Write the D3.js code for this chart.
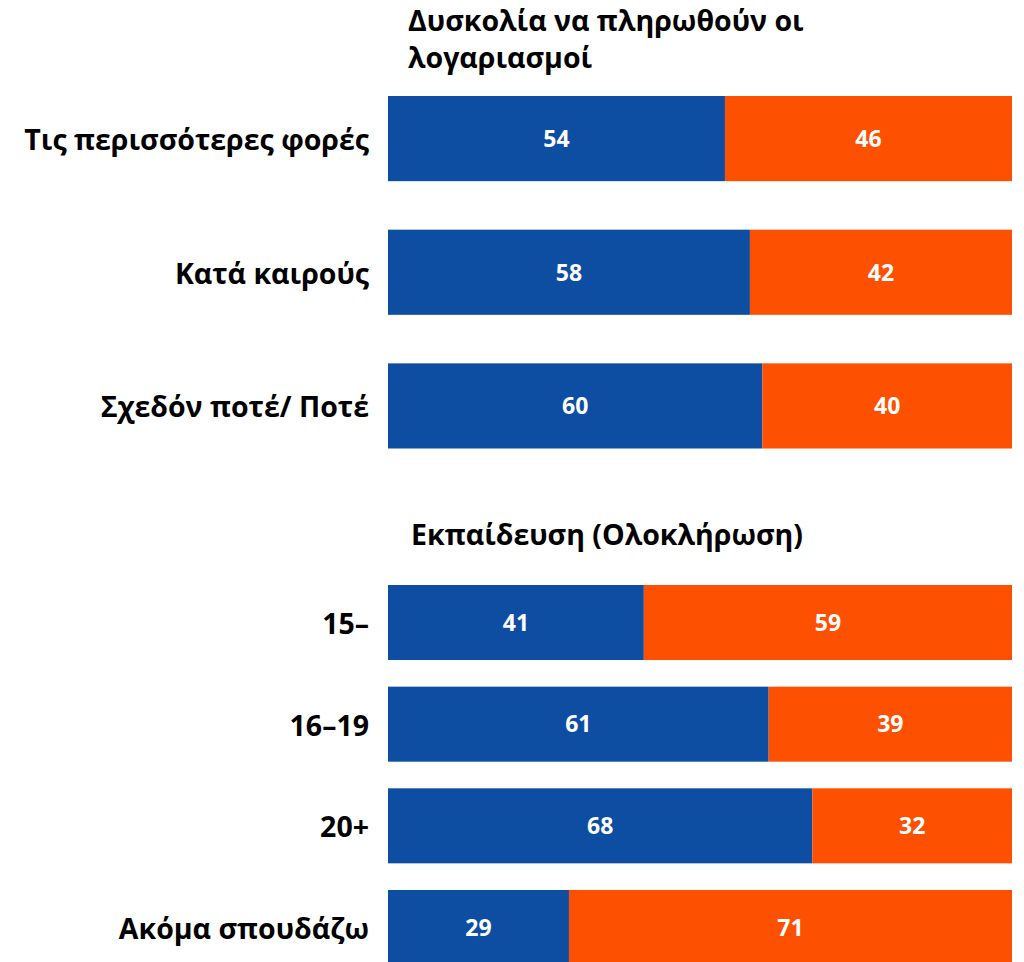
<!DOCTYPE html>
<html>
<head>
<meta charset="utf-8">
<script src="https://cdn.jsdelivr.net/npm/d3@7"></script>
<style>
  body { margin: 0; background: #fff; }
  svg text { font-family: "Open Sans", "Noto Sans", sans-serif; font-weight: 700; }
</style>
</head>
<body>
<div id="chart"></div>
<script>
// difficulty paying bills
const billsTitle = ["Δυσκολία να πληρωθούν οι", "λογαριασμοί"];
const billsCats = ["Τις περισσότερες φορές", "Κατά καιρούς", "Σχεδόν ποτέ/ Ποτέ"];
const billsBlue = [54, 58, 60];
const billsOrange = [46, 42, 40];

// education
const eduTitle = "Εκπαίδευση (Ολοκλήρωση)";
const eduCats = ["15–", "16–19", "20+", "Ακόμα σπουδάζω"];
const eduBlue = [41, 61, 68, 29];
const eduOrange = [59, 39, 32, 71];

const W = 1024, H = 962;
const BLUE = "#0e4ea2", ORANGE = "#fd5000";

const svg = d3.select("#chart").append("svg")
    .attr("width", W).attr("height", H);

const x = d3.scaleLinear().domain([0, 100]).range([388, 1012]);

function drawBlock(cats, blue, orange, yRange, padInner) {
    const y = d3.scaleBand().domain(cats).range(yRange).paddingInner(padInner).paddingOuter(0);
    const rows = cats.map((c, i) => ({cat: c, blue: blue[i], orange: orange[i]}));
    const g = svg.append("g");

    const row = g.selectAll("g.row").data(rows).enter().append("g").attr("class", "row");

    row.append("rect")
        .attr("x", x(0))
        .attr("y", d => y(d.cat))
        .attr("width", d => x(d.blue) - x(0))
        .attr("height", y.bandwidth())
        .attr("fill", BLUE);
    row.append("rect")
        .attr("x", d => x(d.blue))
        .attr("y", d => y(d.cat))
        .attr("width", d => x(d.blue + d.orange) - x(d.blue))
        .attr("height", y.bandwidth())
        .attr("fill", ORANGE);

    row.append("text")
        .attr("x", d => (x(0) + x(d.blue)) / 2)
        .attr("y", d => y(d.cat) + y.bandwidth() / 2)
        .attr("dy", "0.36em")
        .attr("text-anchor", "middle")
        .attr("fill", "#fff")
        .style("font-size", "23px")
        .text(d => d.blue);
    row.append("text")
        .attr("x", d => (x(d.blue) + x(d.blue + d.orange)) / 2)
        .attr("y", d => y(d.cat) + y.bandwidth() / 2)
        .attr("dy", "0.36em")
        .attr("text-anchor", "middle")
        .attr("fill", "#fff")
        .style("font-size", "23px")
        .text(d => d.orange);

    row.append("text")
        .attr("x", 369)
        .attr("y", d => y(d.cat) + y.bandwidth() / 2)
        .attr("dy", "0.4em")
        .attr("text-anchor", "end")
        .attr("fill", "#000")
        .style("font-size", "28.5px")
        .text(d => d.cat);
}

// titles
svg.append("text")
    .attr("x", 408).attr("y", 31)
    .style("font-size", "28.5px")
    .selectAll("tspan").data(billsTitle).enter().append("tspan")
    .attr("x", 408)
    .attr("dy", (d, i) => i ? 37 : 0)
    .text(d => d);

svg.append("text")
    .attr("x", 411).attr("y", 545)
    .style("font-size", "28.5px")
    .text(eduTitle);

drawBlock(billsCats, billsBlue, billsOrange, [96, 448.5], 0.363);
drawBlock(eduCats, eduBlue, eduOrange, [585, 965], 0.262);
</script>
</body>
</html>
